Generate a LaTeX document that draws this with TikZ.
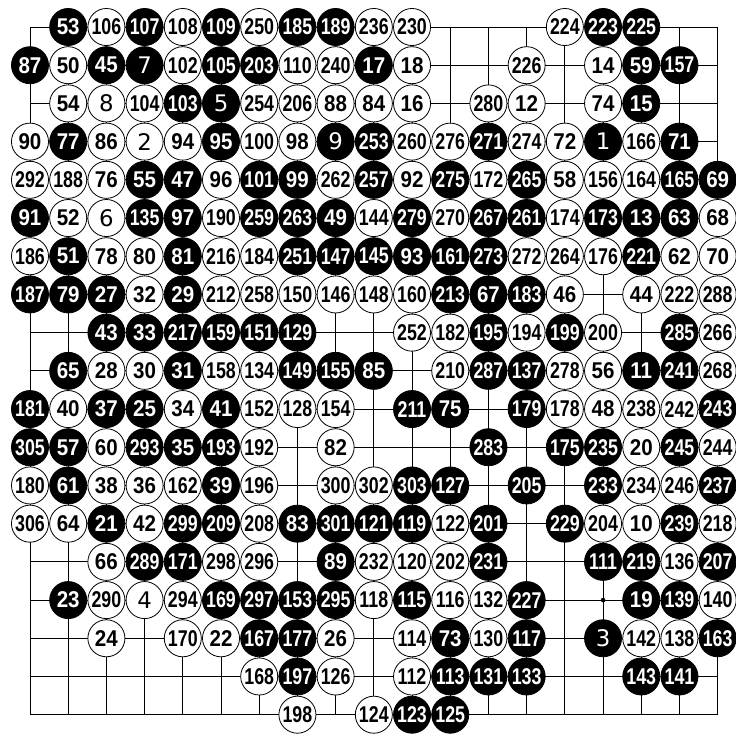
\documentclass[tikz,border=0pt]{standalone}
\usepackage{fontspec}
\usepackage{graphicx}
\usepackage{tikz}
\usetikzlibrary{positioning}
\newfontfamily\numfont{Liberation Sans}
\newfontfamily\onefont{DejaVu Sans}
% move number inside a stone: one digit wide, two or three digits narrowed
\newcommand{\stonenum}[1]{%
  \ifnum#1<10 {\onefont\fontsize{17}{17}\selectfont #1}%
  \else\ifnum#1<100 \scalebox{0.9}[1]{\numfont\bfseries\fontsize{17}{17}\selectfont #1}%
  \else\scalebox{0.78}[1]{\numfont\bfseries\fontsize{17}{17}\selectfont #1}\fi\fi}

\begin{document}
\begin{tikzpicture}[x=1cm,y=-1cm]
    \tikzstyle{bk}=[circle,draw=black,fill=black,text=white,minimum size=9.7mm,inner sep=0pt,line width=0.6pt];
    \tikzstyle{wh}=[circle,draw=black,fill=white,text=black,minimum size=9.7mm,inner sep=0pt,line width=0.6pt];
    \useasboundingbox (0.215,0.293) rectangle (19.48,19.48);
    % --- board ---
    \foreach \i in {1,...,19}{
      \draw[line width=0.6pt] (\i,1) -- (\i,19);
      \draw[line width=0.6pt] (1,\i) -- (19,\i);
    }
    \fill (16,16) circle (0.06);
    % --- stones (odd = black, even = white) ---
    \foreach \c/\r/\n in {
      2/1/53, 3/1/106, 4/1/107, 5/1/108, 6/1/109, 7/1/250, 8/1/185, 9/1/189, 10/1/236, 11/1/230, 15/1/224, 16/1/223, 17/1/225,
      1/2/87, 2/2/50, 3/2/45, 4/2/7, 5/2/102, 6/2/105, 7/2/203, 8/2/110, 9/2/240, 10/2/17, 11/2/18, 14/2/226, 16/2/14, 17/2/59, 18/2/157,
      2/3/54, 3/3/8, 4/3/104, 5/3/103, 6/3/5, 7/3/254, 8/3/206, 9/3/88, 10/3/84, 11/3/16, 13/3/280, 14/3/12, 16/3/74, 17/3/15,
      1/4/90, 2/4/77, 3/4/86, 4/4/2, 5/4/94, 6/4/95, 7/4/100, 8/4/98, 9/4/9, 10/4/253, 11/4/260, 12/4/276, 13/4/271, 14/4/274, 15/4/72, 16/4/1, 17/4/166, 18/4/71,
      1/5/292, 2/5/188, 3/5/76, 4/5/55, 5/5/47, 6/5/96, 7/5/101, 8/5/99, 9/5/262, 10/5/257, 11/5/92, 12/5/275, 13/5/172, 14/5/265, 15/5/58, 16/5/156, 17/5/164, 18/5/165, 19/5/69,
      1/6/91, 2/6/52, 3/6/6, 4/6/135, 5/6/97, 6/6/190, 7/6/259, 8/6/263, 9/6/49, 10/6/144, 11/6/279, 12/6/270, 13/6/267, 14/6/261, 15/6/174, 16/6/173, 17/6/13, 18/6/63, 19/6/68,
      1/7/186, 2/7/51, 3/7/78, 4/7/80, 5/7/81, 6/7/216, 7/7/184, 8/7/251, 9/7/147, 10/7/145, 11/7/93, 12/7/161, 13/7/273, 14/7/272, 15/7/264, 16/7/176, 17/7/221, 18/7/62, 19/7/70,
      1/8/187, 2/8/79, 3/8/27, 4/8/32, 5/8/29, 6/8/212, 7/8/258, 8/8/150, 9/8/146, 10/8/148, 11/8/160, 12/8/213, 13/8/67, 14/8/183, 15/8/46, 17/8/44, 18/8/222, 19/8/288,
      3/9/43, 4/9/33, 5/9/217, 6/9/159, 7/9/151, 8/9/129, 11/9/252, 12/9/182, 13/9/195, 14/9/194, 15/9/199, 16/9/200, 18/9/285, 19/9/266,
      2/10/65, 3/10/28, 4/10/30, 5/10/31, 6/10/158, 7/10/134, 8/10/149, 9/10/155, 10/10/85, 12/10/210, 13/10/287, 14/10/137, 15/10/278, 16/10/56, 17/10/11, 18/10/241, 19/10/268,
      1/11/181, 2/11/40, 3/11/37, 4/11/25, 5/11/34, 6/11/41, 7/11/152, 8/11/128, 9/11/154, 11/11/211, 12/11/75, 14/11/179, 15/11/178, 16/11/48, 17/11/238, 18/11/242, 19/11/243,
      1/12/305, 2/12/57, 3/12/60, 4/12/293, 5/12/35, 6/12/193, 7/12/192, 9/12/82, 13/12/283, 15/12/175, 16/12/235, 17/12/20, 18/12/245, 19/12/244,
      1/13/180, 2/13/61, 3/13/38, 4/13/36, 5/13/162, 6/13/39, 7/13/196, 9/13/300, 10/13/302, 11/13/303, 12/13/127, 14/13/205, 16/13/233, 17/13/234, 18/13/246, 19/13/237,
      1/14/306, 2/14/64, 3/14/21, 4/14/42, 5/14/299, 6/14/209, 7/14/208, 8/14/83, 9/14/301, 10/14/121, 11/14/119, 12/14/122, 13/14/201, 15/14/229, 16/14/204, 17/14/10, 18/14/239, 19/14/218,
      3/15/66, 4/15/289, 5/15/171, 6/15/298, 7/15/296, 9/15/89, 10/15/232, 11/15/120, 12/15/202, 13/15/231, 16/15/111, 17/15/219, 18/15/136, 19/15/207,
      2/16/23, 3/16/290, 4/16/4, 5/16/294, 6/16/169, 7/16/297, 8/16/153, 9/16/295, 10/16/118, 11/16/115, 12/16/116, 13/16/132, 14/16/227, 17/16/19, 18/16/139, 19/16/140,
      3/17/24, 5/17/170, 6/17/22, 7/17/167, 8/17/177, 9/17/26, 11/17/114, 12/17/73, 13/17/130, 14/17/117, 16/17/3, 17/17/142, 18/17/138, 19/17/163,
      7/18/168, 8/18/197, 9/18/126, 11/18/112, 12/18/113, 13/18/131, 14/18/133, 17/18/143, 18/18/141,
      8/19/198, 10/19/124, 11/19/123, 12/19/125}{
      \ifodd\n\relax
        \node[bk] (s\n) at (\c,\r) {\stonenum{\n}};
      \else
        \node[wh] (s\n) at (\c,\r) {\stonenum{\n}};
      \fi
    }
\end{tikzpicture}
\end{document}
